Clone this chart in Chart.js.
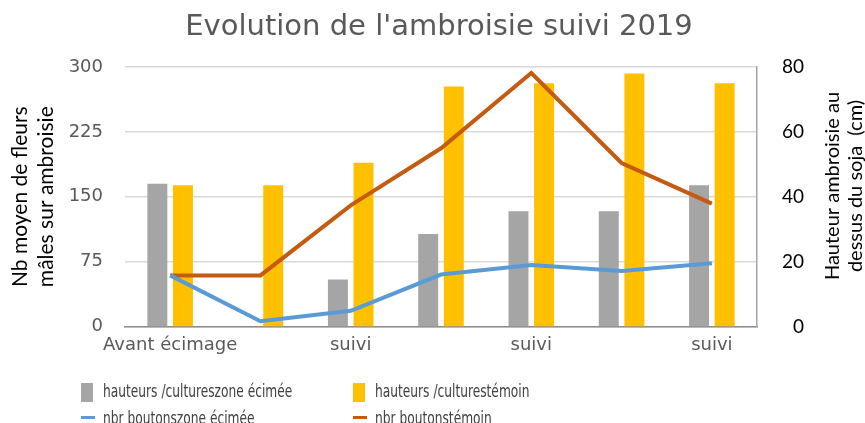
<!DOCTYPE html>
<html><head><meta charset="utf-8">
<script src="https://cdn.jsdelivr.net/npm/chart.js@4/dist/chart.umd.min.js"></script>
<style>
html,body{margin:0;padding:0;background:#fff;overflow:hidden;width:865px;height:423px}
#wrap{position:relative;width:872px;height:423px}
#legend{position:absolute;left:0;top:0;width:872px;height:423px;pointer-events:none;font-family:"DejaVu Sans Condensed","DejaVu Sans",sans-serif;font-size:17px;color:#404040}
.li{position:absolute;white-space:nowrap;line-height:20px;transform-origin:0 0;transform:scaleX(0.8)}
.box{position:absolute;width:12px;height:19px}
.ln{position:absolute;width:14px;height:3px}
</style></head>
<body>
<div id="wrap"><canvas id="c" width="872" height="423"></canvas>
<div id="legend"></div></div>
<script>
const categories = ["Avant écimage","suivi","suivi","suivi","suivi","suivi","suivi"];
const hauteurZoneEcimee = [44, null, 14.5, 28.5, 35.5, 35.5, 43.5];
const hauteurTemoin = [43.5, 43.5, 50.5, 74, 75, 78, 75];
const boutonsZoneEcimee = [59, 6, 18, 60, 71, 64, 73];
const boutonsTemoin = [59, 59, 140, 206, 293, 189, 142];
const leftTicks = [0, 75, 150, 225, 300];
const rightTicks = [0, 20, 40, 60, 80];
const seriesNames = ["hauteurs /cultureszone écimée","hauteurs /culturestémoin","nbr boutonszone écimée","nbr boutonstémoin"];
const chartTitle = "Evolution de l'ambroisie suivi 2019";
const rightTitle = ["Hauteur ambroisie au","dessus du soja  (cm)"];
const colors = ["#A5A5A5","#FFC000","#5B9BD5","#C55A11"];

const textPlugin = {
  id:'extraText',
  afterDraw(chart){
    const ctx = chart.ctx;
    ctx.save();
    ctx.fillStyle = '#595959';
    ctx.font = '29px "DejaVu Sans", sans-serif';
    ctx.textAlign = 'center';
    ctx.textBaseline = 'alphabetic';
    ctx.fillText(chartTitle, 439, 35);
    ctx.fillStyle = '#000';
    ctx.font = '20px Lato, sans-serif';
    ctx.textBaseline = 'middle';
    const xs = [833, 856];
    rightTitle.forEach((t,i)=>{
      ctx.save();
      ctx.translate(xs[i], 186);
      ctx.rotate(-Math.PI/2);
      ctx.fillText(t, 0, 0);
      ctx.restore();
    });
    ctx.restore();
  }
};

const chart = new Chart(document.getElementById('c'), {
  data: {
    labels: categories,
    datasets: [
      {type:'line', label: seriesNames[2], data: boutonsZoneEcimee, yAxisID:'y', borderColor: colors[2], backgroundColor: colors[2], borderWidth:4, pointRadius:0, order:0, tension:0},
      {type:'line', label: seriesNames[3], data: boutonsTemoin, yAxisID:'y', borderColor: colors[3], backgroundColor: colors[3], borderWidth:4, pointRadius:0, order:0, tension:0},
      {type:'bar', label: seriesNames[0], data: hauteurZoneEcimee, yAxisID:'y1', backgroundColor: colors[0], categoryPercentage:0.567, barPercentage:0.78, order:1},
      {type:'bar', label: seriesNames[1], data: hauteurTemoin, yAxisID:'y1', backgroundColor: colors[1], categoryPercentage:0.567, barPercentage:0.78, order:1}
    ]
  },
  plugins:[textPlugin],
  options: {
    responsive:false, animation:false,
    layout:{padding:{left:8, right:68, top:67, bottom:59}},
    plugins:{ legend:{display:false}, tooltip:{enabled:false}, title:{display:false} },
    scales:{
      x:{
        grid:{display:false, drawTicks:false},
        border:{display:true, color:'#8c8c8c', width:1.5},
        ticks:{color:'#595959', font:{family:'"DejaVu Sans", sans-serif', size:18}, padding:8, autoSkip:false, maxRotation:0,
          callback:function(v,i){return i%2===0 ? categories[i] : '';}}
      },
      y:{
        position:'left', min:0, max:300,
        afterBuildTicks: a => { a.ticks = leftTicks.map(v=>({value:v})); },
        afterFit: s => { s.width = 117; },
        grid:{color:'#d9d9d9', drawTicks:false, lineWidth:1.5},
        border:{display:false},
        ticks:{color:'#595959', font:{family:'"DejaVu Sans", sans-serif', size:18}, padding:22},
        title:{display:true, text:["Nb moyen de fleurs","mâles sur ambroisie"], color:'#000', font:{family:'Lato, sans-serif', size:21}, padding:{top:0,bottom:6}}
      },
      y1:{
        position:'right', min:0, max:80,
        afterBuildTicks: a => { a.ticks = rightTicks.map(v=>({value:v})); },
        afterFit: s => { s.width = 47; },
        grid:{display:false, drawTicks:false},
        border:{display:true, color:'#a6a6a6', width:1.5},
        ticks:{color:'#000', font:{family:'Lato, sans-serif', size:19}, padding:25, crossAlign:'far'}
      }
    }
  }
});

const lg = document.getElementById('legend');
const pos = [[81,394,'box'],[353,394,'box'],[81,421,'ln'],[353,421,'ln']];
pos.forEach((p,k)=>{
  const [x,base,kind] = p;
  const m = document.createElement('div');
  m.className = kind;
  m.style.background = colors[k];
  if(kind==='box'){ m.style.left = x+'px'; m.style.top = (base-11)+'px'; }
  else { m.style.left = x+'px'; m.style.top = (base-5)+'px'; }
  lg.appendChild(m);
  const t = document.createElement('div');
  t.className='li'; t.textContent = seriesNames[k];
  t.style.left = (x+22)+'px'; t.style.top = (base-13)+'px';
  lg.appendChild(t);
});
</script>
</body></html>
